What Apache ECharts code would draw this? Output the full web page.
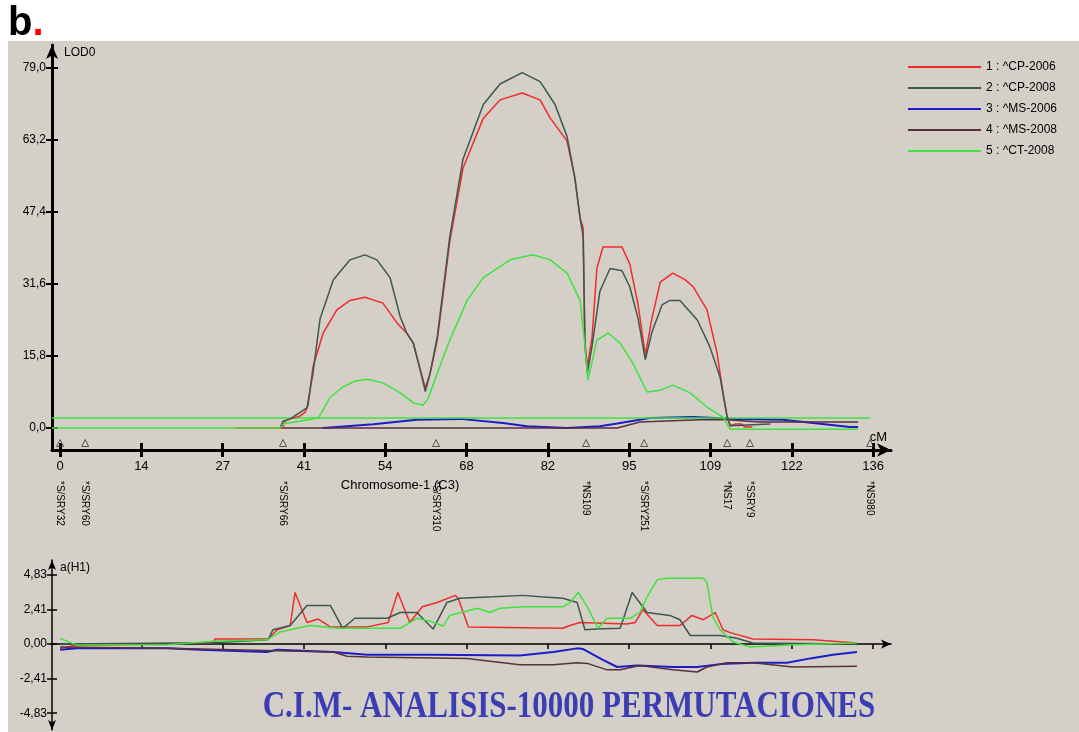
<!DOCTYPE html>
<html>
<head>
<meta charset="utf-8">
<script src="https://cdn.jsdelivr.net/npm/echarts@6/dist/echarts.min.js"></script>
<style>
  html, body { margin: 0; padding: 0; background: #fff; }
  #main { width: 1079px; height: 732px; }
</style>
</head>
<body>
<div id="main"></div>
<script>
// --- data (cM, value) ---
var seriesNames = ['1 : ^CP-2006', '2 : ^CP-2008', '3 : ^MS-2006', '4 : ^MS-2008', '5 : ^CT-2008'];
var colors = ['#f22a2a', '#3d5750', '#1c1cc8', '#5a2f3e', '#3fe23f'];

var xTicks = [0, 13.6, 27.2, 40.8, 54.4, 68, 81.6, 95.2, 108.8, 122.4, 136];
var lodTicks = [0, 15.8, 31.6, 47.4, 63.2, 79.0];
var effTicks = [-4.83, -2.41, 0, 2.41, 4.83];

var markerPos = [0, 4.2, 37.3, 62.9, 88.0, 97.7, 111.6, 115.4, 135.5];
var markerNames = ['*S/SRY32', '*S/SRY60', '*S/SRY66', '*S/SRY310', '*NS109', '*S/SRY251', '*NS17', '*SSRY9', '*NS980'];
var markerY = -3.3;

var thresholdLOD = 2.2;
var thresholdRange = [-1.35, 135.5];

// LOD curves
var lodCP2006 = [[29.3,0],[37.3,0],[37.6,1.5],[38.5,2.0],[40.1,2.6],[41.0,3.5],[41.5,5],[42.3,13.4],[44.0,20.8],[46.3,25.9],[48.5,28.0],[51.0,28.7],[54.0,27.4],[56.4,23.0],[58.0,20.8],[59.1,18.6],[60.2,13.0],[61.1,8.8],[61.9,12],[63.1,19.3],[65.2,41],[67.4,57],[70.8,68],[73.6,72],[77.3,73.5],[80.3,72],[82.0,68],[84.8,63],[86.1,55],[87.0,46],[87.5,44],[87.8,19],[88.2,13.4],[89.0,20],[89.8,35],[90.8,39.7],[94.0,39.7],[95.3,36],[96.7,27],[97.9,16],[99.0,24],[100.4,32],[102.5,34],[104.6,32.5],[105.9,31],[108.2,26],[109.9,16.5],[110.9,7.7],[111.6,2.4],[112.1,0.5],[113.0,0.9],[114.0,0.9],[114.5,0.2],[115.8,0.2]];
var lodCP2008 = [[36.8,0],[37.3,1.5],[38.5,2.0],[41.3,4.4],[42.3,12],[43.5,24],[45.7,32.5],[48.5,36.9],[51.0,38],[53.0,36.9],[55.2,33],[56.9,24.4],[58.0,20.8],[59.1,18.6],[60.2,13],[61.1,8.0],[61.9,12],[63.1,20],[65.2,42],[67.4,59],[70.8,71],[73.6,75.5],[77.3,78],[80.3,76],[82.8,71],[84.8,64],[86.1,55],[87.0,46],[87.5,42],[87.8,18],[88.2,12],[89.0,18],[90.3,30],[92.0,35],[94.0,34.5],[95.3,31],[96.7,24],[97.9,15],[99.0,21],[100.7,27],[102.0,28],[103.7,28],[106.6,23.7],[108.7,17.8],[110.4,11.2],[111.6,2.4],[112.1,0.5],[118.8,0.9]];
var lodMS2006 = [[44.0,0],[52.4,0.8],[59.7,1.8],[66.9,2.0],[74.1,1.1],[78.1,0.4],[84.8,0],[90.3,0.4],[93.2,1.0],[98.7,2.2],[105.9,2.4],[113.2,2.0],[120.9,1.8],[126.0,1.1],[132.1,0.2],[133.5,0.2]];
var lodMS2008 = [[36.8,0],[73.6,0],[93.2,0],[97.0,1.3],[107.0,1.8],[111.6,1.8],[117.0,1.3],[133.5,1.3]];
var lodCT2008 = [[-1.35,0],[36.8,0],[37.6,1.0],[40.1,1.5],[43.2,2.2],[43.8,3.5],[45.2,6.8],[47.3,9.0],[49.3,10.3],[51.5,10.7],[54.0,9.9],[56.9,7.7],[59.1,5.5],[60.7,5.0],[61.6,6.5],[63.1,12],[65.2,19.3],[68.1,28],[70.8,33],[75.3,36.9],[79.1,38],[82.0,36.9],[84.8,34],[87.0,28],[87.8,18],[88.3,10.5],[89.8,19.3],[91.7,20.8],[93.7,18.6],[95.8,14.3],[98.2,7.9],[100.4,8.3],[102.5,9.4],[105.4,7.7],[108.2,4.6],[110.9,2.4],[112.1,-0.3],[133.5,-0.3]];

// additive effect a(H1)
var effCP2006 = [[0,-0.3],[2.5,-0.1],[25.6,0.1],[25.9,0.35],[34.8,0.35],[36.3,1.0],[38.5,1.3],[39.3,3.6],[41.3,1.5],[43.2,1.75],[45.2,1.2],[47.3,1.2],[51.4,1.2],[54.9,1.5],[56.5,3.6],[58.5,1.5],[60.6,2.6],[63.1,2.9],[66.1,3.4],[66.6,3.2],[68.3,1.2],[84.1,1.1],[85.3,1.3],[87.0,1.5],[94.8,1.4],[96.2,1.5],[97.5,2.4],[99.9,1.3],[103.7,1.3],[105.7,2.0],[107.6,1.7],[109.6,2.2],[110.9,1.0],[112.1,0.8],[115.9,0.35],[126.0,0.3],[133.3,0.07]];
var effCP2008 = [[0,0],[25.6,0.1],[34.8,0.3],[35.6,1.0],[38.5,1.3],[41.3,2.7],[45.2,2.7],[47.3,1.1],[49.3,1.8],[54.7,1.8],[56.9,2.2],[59.7,2.2],[62.4,1.05],[64.7,2.9],[66.9,3.2],[72.4,3.3],[77.5,3.4],[80.3,3.3],[84.1,3.2],[86.5,2.9],[87.8,1.0],[89.8,1.05],[93.7,1.1],[95.7,3.6],[98.2,2.2],[102.0,2.0],[103.7,1.7],[105.4,0.6],[110.4,0.6],[113.2,0.4],[115.9,0.07],[133.3,0.0]];
var effMS2006 = [[0,-0.4],[2.8,-0.3],[17.9,-0.3],[23.4,-0.4],[34.6,-0.55],[36.3,-0.4],[45.7,-0.55],[51.4,-0.75],[62.4,-0.75],[76.9,-0.8],[82.5,-0.55],[86.5,-0.3],[87.5,-0.35],[90.8,-1.1],[93.2,-1.6],[96.5,-1.5],[102.5,-1.6],[106.6,-1.6],[110.4,-1.4],[115.9,-1.3],[121.6,-1.3],[125.5,-1.0],[129.3,-0.75],[133.3,-0.55]];
var effMS2008 = [[0,-0.2],[17.9,-0.3],[45.7,-0.55],[48.0,-0.85],[51.4,-0.9],[68.1,-1.0],[76.9,-1.45],[82.5,-1.45],[86.5,-1.3],[88.2,-1.35],[91.5,-1.8],[93.7,-1.8],[97.0,-1.5],[102.5,-1.8],[106.6,-1.95],[108.2,-1.6],[111.6,-1.3],[115.9,-1.3],[122.6,-1.6],[133.3,-1.55]];
var effCT2008 = [[0,0.4],[2.8,-0.07],[17.9,-0.05],[25.6,0.2],[34.6,0.3],[36.8,0.85],[41.8,1.3],[46.3,1.1],[56.9,1.1],[59.7,1.8],[61.9,1.6],[64.1,1.26],[65.2,2.0],[69.8,2.5],[71.9,2.2],[73.6,2.5],[77.5,2.6],[84.1,2.6],[85.3,2.9],[86.7,3.6],[88.2,2.6],[90.0,1.1],[91.5,1.8],[95.3,1.8],[97.0,2.2],[98.2,3.3],[99.9,4.5],[101.5,4.6],[107.6,4.6],[108.2,4.3],[109.2,1.9],[110.4,1.0],[112.6,0.15],[115.4,-0.2],[121.6,-0.07],[133.3,0.07]];

var lodData = [lodCP2006, lodCP2008, lodMS2006, lodMS2008, lodCT2008];
var effData = [effCP2006, effCP2008, effMS2006, effMS2008, effCT2008];

// --- chart ---
var myChart = echarts.init(document.getElementById('main'));
var font = '"Liberation Sans", Arial, sans-serif';
var xMin = -1.35, xMax = 139;

function comma(v, d) { return v.toFixed(d).replace('.', ','); }

var series = [];
// 上图 LOD
lodData.forEach(function (d, i) {
  series.push({
    name: seriesNames[i], type: 'line', xAxisIndex: 0, yAxisIndex: 0,
    data: d, symbol: 'none', color: colors[i],
    lineStyle: { width: i === 2 ? 2 : 1.5 }, z: i === 2 || i === 3 ? 3 : 4
  });
});
series.push({
  type: 'line', xAxisIndex: 0, yAxisIndex: 0, symbol: 'none', silent: true,
  data: thresholdRange.map(function (x) { return [x, thresholdLOD]; }),
  color: colors[4], lineStyle: { width: 1.5 }
});
series.push({
  type: 'scatter', xAxisIndex: 0, yAxisIndex: 0, silent: true,
  data: markerPos.map(function (p) { return [p, markerY]; }),
  symbol: 'triangle', symbolSize: [7, 7],
  itemStyle: { color: 'transparent', borderColor: '#333', borderWidth: 1 }
});
// 下图 a(H1)
effData.forEach(function (d, i) {
  series.push({
    name: seriesNames[i], type: 'line', xAxisIndex: 3, yAxisIndex: 2,
    data: d, symbol: 'none', color: colors[i],
    lineStyle: { width: i === 2 ? 2 : 1.5 }
  });
});

var option = {
  backgroundColor: '#d4d0c8',
  animation: false,
  textStyle: { fontFamily: font },
  grid: [
    { left: 52, right: 188, top: 45, height: 405 },
    { left: 52, right: 188, top: 560, height: 170 }
  ],
  legend: {
    data: seriesNames, orient: 'vertical', left: 903, top: 56,
    icon: 'rect', itemWidth: 73, itemHeight: 2, itemGap: 9,
    textStyle: { fontSize: 12, color: '#000', fontFamily: font }
  },
  xAxis: [
    {
      gridIndex: 0, type: 'value', min: xMin, max: xMax, position: 'bottom',
      name: 'cM', nameLocation: 'end', nameGap: -4,
      nameTextStyle: { align: 'right', verticalAlign: 'bottom', padding: [0, 0, 6, 0], fontSize: 13, color: '#000' },
      axisLine: { onZero: false, symbol: ['none', 'arrow'], symbolSize: [10, 14], lineStyle: { color: '#000', width: 3 } },
      axisTick: { customValues: xTicks, length: 7, lineStyle: { color: '#000', width: 3 } },
      axisLabel: { customValues: xTicks, margin: 10, fontSize: 13, color: '#000',
        formatter: function (v) { return Math.round(v); } },
      splitLine: { show: false }
    },
    {
      gridIndex: 0, type: 'value', min: xMin, max: xMax, position: 'bottom',
      axisLine: { show: false, onZero: false },
      axisTick: { inside: true, customValues: xTicks, length: 7, lineStyle: { color: '#000', width: 3 } },
      axisLabel: { show: false }, splitLine: { show: false }
    },
    {
      gridIndex: 0, type: 'value', min: xMin, max: xMax, position: 'bottom',
      axisLine: { show: false, onZero: false }, axisTick: { show: false },
      axisLabel: { customValues: markerPos, rotate: -90, margin: 31, fontSize: 10, color: '#000',
        formatter: function (v) { return markerNames[markerPos.indexOf(v)]; } },
      splitLine: { show: false }
    },
    {
      gridIndex: 1, type: 'value', min: xMin, max: xMax,
      axisLine: { onZero: true, symbol: ['none', 'arrow'], symbolSize: [7, 10], lineStyle: { color: '#000', width: 1.5 } },
      axisTick: { customValues: xTicks.slice(1), length: 5, lineStyle: { color: '#000', width: 1.5 } },
      axisLabel: { show: false }, splitLine: { show: false }
    }
  ],
  yAxis: [
    {
      gridIndex: 0, type: 'value', min: -4.83, max: 84.05, position: 'left',
      name: 'LOD0', nameLocation: 'end', nameGap: -14,
      nameTextStyle: { align: 'left', padding: [0, 0, 0, 12], fontSize: 12, color: '#000' },
      axisLine: { onZero: false, symbol: ['none', 'arrow'], symbolSize: [9, 14], lineStyle: { color: '#000', width: 3 } },
      axisTick: { customValues: lodTicks, length: 6, lineStyle: { color: '#000', width: 2 } },
      axisLabel: { customValues: lodTicks, margin: 6, fontSize: 12, color: '#000',
        formatter: function (v) { return comma(v, 1); } },
      splitLine: { show: false }
    },
    {
      gridIndex: 0, type: 'value', min: -4.83, max: 84.05, position: 'left',
      axisLine: { show: false, onZero: false },
      axisTick: { inside: true, customValues: lodTicks, length: 6, lineStyle: { color: '#000', width: 2 } },
      axisLabel: { show: false }, splitLine: { show: false }
    },
    {
      gridIndex: 1, type: 'value', min: -6, max: 5.87, position: 'left',
      name: 'a(H1)', nameLocation: 'end', nameGap: -14,
      nameTextStyle: { align: 'left', padding: [0, 0, 0, 8], fontSize: 12, color: '#000' },
      axisLine: { onZero: false, symbol: ['arrow', 'arrow'], symbolSize: [6, 10], lineStyle: { color: '#000', width: 1.5 } },
      axisTick: { customValues: effTicks, length: 5, lineStyle: { color: '#000', width: 1.5 } },
      axisLabel: { customValues: effTicks, margin: 5, fontSize: 12, color: '#000',
        formatter: function (v) { return comma(v, 2); } },
      splitLine: { show: false }
    },
    {
      gridIndex: 1, type: 'value', min: -6, max: 5.87, position: 'left',
      axisLine: { show: false, onZero: false },
      axisTick: { inside: true, customValues: effTicks, length: 5, lineStyle: { color: '#000', width: 1.5 } },
      axisLabel: { show: false }, splitLine: { show: false }
    }
  ],
  graphic: [
    { type: 'rect', left: 0, top: 0, shape: { width: 1079, height: 41 }, style: { fill: '#fff' }, silent: true },
    { type: 'rect', left: 0, top: 0, shape: { width: 8, height: 732 }, style: { fill: '#fff' }, silent: true },
    {
      type: 'text', left: 8, top: 4,
      style: {
        text: '{b|b}{d|.}',
        rich: {
          b: { fontSize: 40, fontWeight: 'bold', fontFamily: font, fill: '#000' },
          d: { fontSize: 40, fontWeight: 'bold', fontFamily: font, fill: '#ff0000' }
        }
      }
    },
    {
      type: 'text', x: 400, y: 485,
      style: { text: 'Chromosome-1 (C3)', fontSize: 13, fontFamily: font, fill: '#000', align: 'center', verticalAlign: 'middle' }
    },
    {
      type: 'text', x: 569, y: 707, scaleY: 1.25,
      style: {
        text: 'C.I.M- ANALISIS-10000 PERMUTACIONES',
        font: 'bold 31px "Liberation Serif", "Times New Roman", serif',
        fill: '#3c3cb4', align: 'center', verticalAlign: 'middle'
      }
    }
  ],
  series: series
};
myChart.setOption(option);
</script>
</body>
</html>
